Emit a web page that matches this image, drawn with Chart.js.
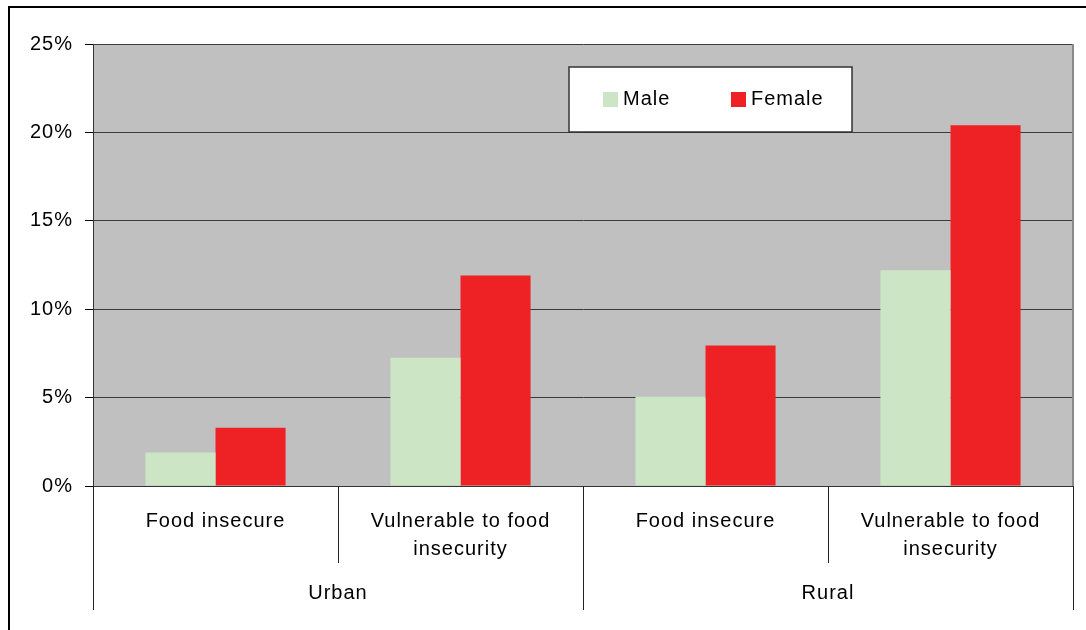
<!DOCTYPE html>
<html lang="en">
<head>
  <meta charset="UTF-8">
  <title>Food insecurity by sex</title>
  <script src="https://cdn.jsdelivr.net/npm/chart.js"></script>
  <style>
    html, body { margin: 0; padding: 0; background: #fff; }
    #wrap { width: 1086px; height: 630px; }
  </style>
</head>
<body>
  <div id="wrap"><canvas id="chart" width="1086" height="630"></canvas></div>

  <script>
    // Data (percent)
    const categories = ['Food insecure', ['Vulnerable to food', 'insecurity'], 'Food insecure', ['Vulnerable to food', 'insecurity']];
    const groups = ['Urban', 'Rural'];
    const groupSize = 2;
    const maleValues = [1.9, 7.25, 5.05, 12.2];
    const femaleValues = [3.3, 11.9, 7.95, 20.4];
    const yTicks = [0, 5, 10, 15, 20, 25];

    const FONT = 'Liberation Sans, Arial, sans-serif';

    // backdrop: white page, gray plot, outer frame
    const backdrop = {
      id: 'backdrop',
      beforeInit(chart) {
        chart.ctx.letterSpacing = '1px'; // the original text is slightly spaced out
      },
      beforeDraw(chart) {
        const { ctx, chartArea: a } = chart;
        ctx.letterSpacing = '1px';
        ctx.save();
        ctx.fillStyle = '#fff';
        ctx.fillRect(0, 0, chart.width, chart.height);
        ctx.fillStyle = '#c0c0c0';
        ctx.fillRect(a.left, a.top, a.right - a.left, a.bottom - a.top);
        ctx.strokeStyle = '#000';
        ctx.lineWidth = 2;
        ctx.beginPath();
        ctx.moveTo(9, chart.height);
        ctx.lineTo(9, 7);
        ctx.lineTo(chart.width, 7);
        ctx.stroke();
        ctx.restore();
      }
    };

    // separators under the x axis, group labels, legend box
    const extras = {
      id: 'extras',
      afterDraw(chart) {
        const { ctx, chartArea: a } = chart;
        const x = chart.scales.x;
        const n = categories.length;
        const step = (a.right - a.left) / n;
        ctx.save();

        // gray right edge of plot
        ctx.strokeStyle = '#8a8a8a';
        ctx.lineWidth = 2;
        ctx.beginPath();
        ctx.moveTo(a.right, a.top);
        ctx.lineTo(a.right, a.bottom);
        ctx.stroke();

        // category / group separators
        ctx.strokeStyle = '#222';
        ctx.lineWidth = 1;
        for (let i = 0; i <= n; i++) {
          const px = Math.round(x.getPixelForValue(i) - step / 2) + 0.5;
          const long = i % groupSize === 0;
          ctx.beginPath();
          ctx.moveTo(px, a.bottom);
          ctx.lineTo(px, a.bottom + (long ? 124 : 77));
          ctx.stroke();
        }

        // group labels
        ctx.fillStyle = '#000';
        ctx.font = '20px ' + FONT;
        ctx.textAlign = 'center';
        ctx.textBaseline = 'middle';
        groups.forEach((g, gi) => {
          const first = x.getPixelForValue(gi * groupSize);
          const last = x.getPixelForValue(gi * groupSize + groupSize - 1);
          ctx.fillText(g, (first + last) / 2, a.bottom + 107);
        });

        // legend
        const bx = a.left + 476, by = a.top + 23, bw = 283, bh = 65;
        ctx.fillStyle = '#fff';
        ctx.fillRect(bx, by, bw, bh);
        ctx.strokeStyle = '#333';
        ctx.lineWidth = 1.5;
        ctx.strokeRect(bx, by, bw, bh);
        const offsets = [34, 162];
        ctx.textAlign = 'left';
        chart.data.datasets.forEach((ds, i) => {
          const sx = bx + offsets[i];
          ctx.fillStyle = ds.backgroundColor;
          ctx.fillRect(sx, by + 25, 15, 15);
          ctx.fillStyle = '#000';
          ctx.fillText(ds.label, sx + 20, by + 32);
        });

        ctx.restore();
      }
    };

    new Chart(document.getElementById('chart'), {
      type: 'bar',
      data: {
        labels: categories,
        datasets: [
          { label: 'Male', data: maleValues, backgroundColor: '#cce5c4' },
          { label: 'Female', data: femaleValues, backgroundColor: '#ee2224' }
        ]
      },
      options: {
        responsive: false,
        animation: false,
        events: [],
        layout: { padding: { left: 0, top: 44, right: 13, bottom: 0 } },
        datasets: { bar: { barPercentage: 1, categoryPercentage: 0.572 } },
        plugins: { legend: { display: false }, tooltip: { enabled: false } },
        scales: {
          x: {
            afterFit(s) { s.height = 144; },
            grid: { display: false },
            border: { display: true, color: '#333', width: 1 },
            ticks: {
              color: '#000',
              font: { family: FONT, size: 20, lineHeight: 1.4 },
              padding: 13,
              maxRotation: 0,
              autoSkip: false
            }
          },
          y: {
            min: 0,
            max: 25,
            afterFit(s) { s.width = 93; },
            afterBuildTicks(s) { s.ticks = yTicks.map(v => ({ value: v })); },
            grid: { color: '#3a3a3a', lineWidth: 1, tickColor: '#000', tickLength: 8 },
            border: { display: true, color: '#333', width: 1 },
            ticks: {
              color: '#000',
              font: { family: FONT, size: 20 },
              padding: 12,
              callback: v => v + '%'
            }
          }
        }
      },
      plugins: [backdrop, extras]
    });
  </script>
</body>
</html>
